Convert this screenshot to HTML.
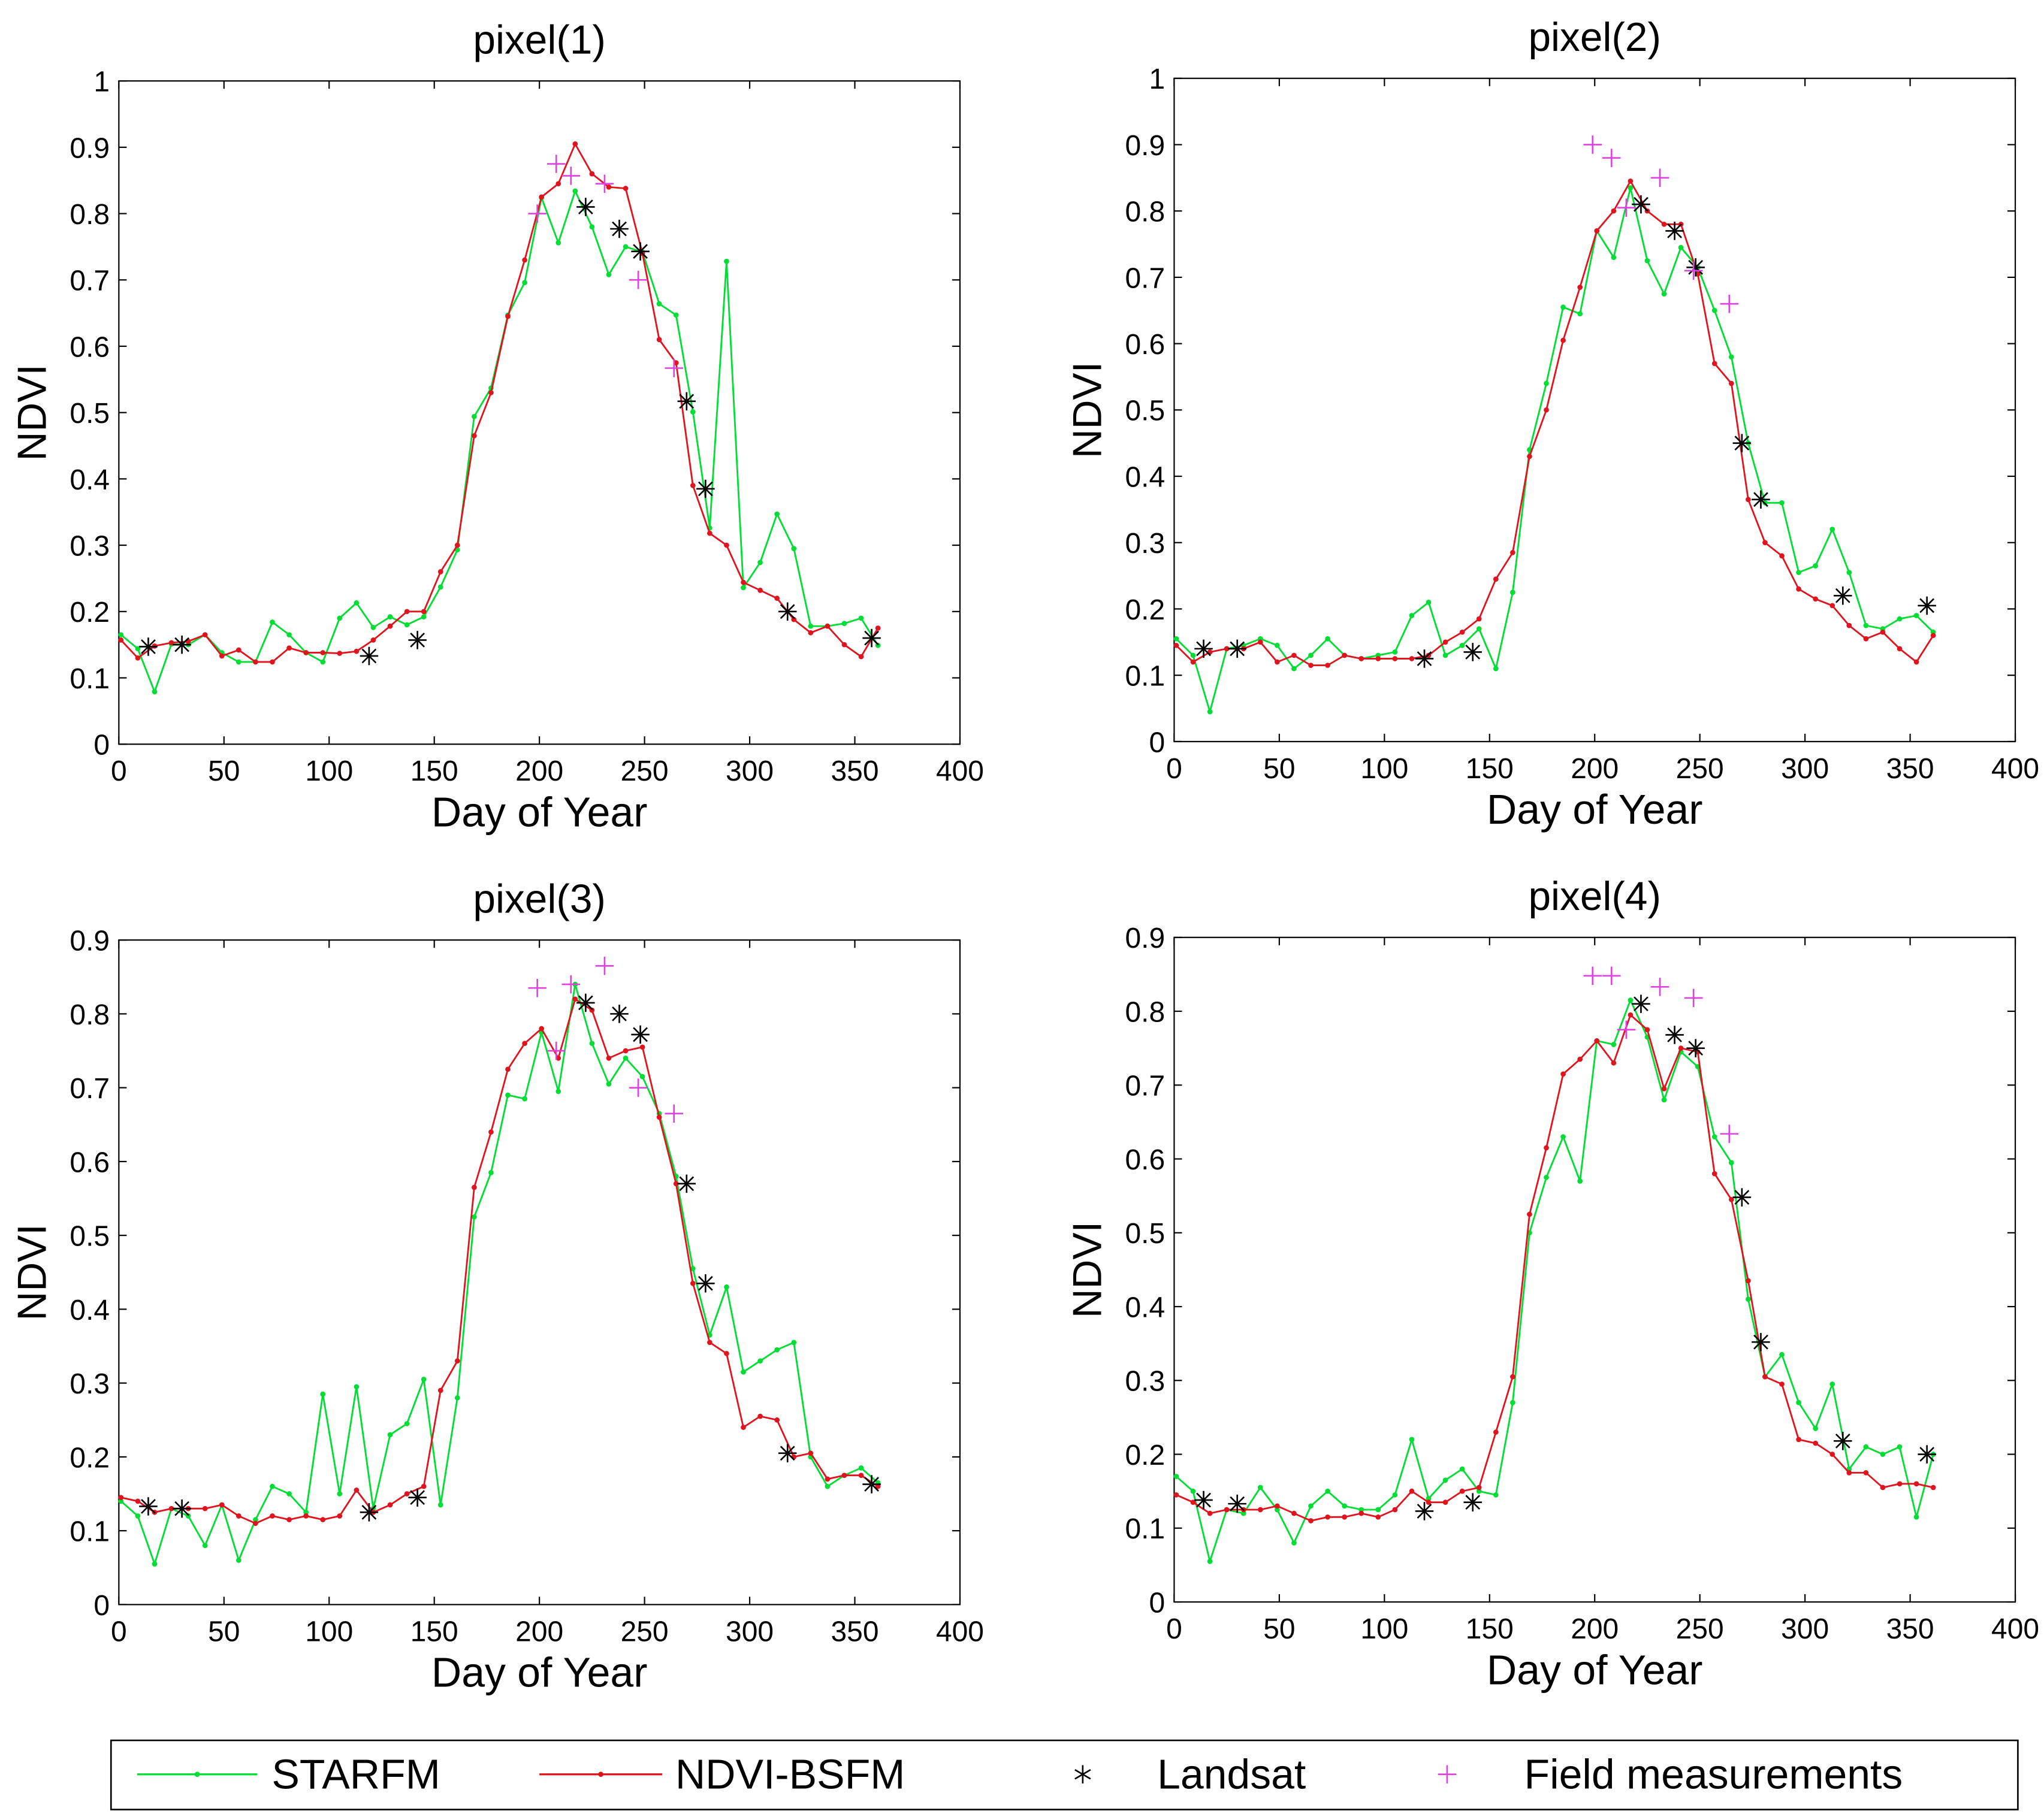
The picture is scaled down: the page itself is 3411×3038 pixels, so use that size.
<!DOCTYPE html>
<html><head><meta charset="utf-8"><style>
html,body{margin:0;padding:0;background:#fff;}
svg{display:block;}
text{font-family:"Liberation Sans",Arial,sans-serif;fill:#000;}
</style></head><body>
<svg id="chart" width="3411" height="3038" viewBox="0 0 1565 1394" preserveAspectRatio="none" xmlns="http://www.w3.org/2000/svg">
<g id="panels"></g>
<g>
<rect x="85" y="1333" width="1460" height="53" fill="#fff" stroke="#000" stroke-width="1.2"/>
<g>
<line x1="105" y1="1359" x2="197" y2="1359" stroke="#00dd33" stroke-width="1.5"/><circle cx="151" cy="1359" r="2" fill="#00dd33"/>
<text x="208" y="1370" font-size="32">STARFM</text></g>
<g>
<line x1="413" y1="1359" x2="507" y2="1359" stroke="#e0141e" stroke-width="1.5"/><circle cx="460" cy="1359" r="2" fill="#e0141e"/>
<text x="517" y="1370" font-size="32">NDVI-BSFM</text></g>
<g>
<g stroke="#000" stroke-width="1.2"><line x1="829" y1="1352" x2="829" y2="1366"/><line x1="823" y1="1355.5" x2="835" y2="1362.5"/><line x1="823" y1="1362.5" x2="835" y2="1355.5"/></g>
<text x="886" y="1370" font-size="32">Landsat</text></g>
<g>
<g stroke="#e040e0" stroke-width="1.2"><line x1="1101" y1="1359" x2="1115" y2="1359"/><line x1="1108" y1="1352" x2="1108" y2="1366"/></g>
<text x="1167" y="1370" font-size="32">Field measurements</text></g>
</g>
</svg>
<script>
const days = [1,9,17,25,33,41,49,57,65,73,81,89,97,105,113,121,129,137,145,153,161,169,177,185,193,201,209,217,225,233,241,249,257,265,273,281,289,297,305,313,321,329,337,345,353,361];
const xTicks = [0,50,100,150,200,250,300,350,400];
const yTicks1 = [0,0.1,0.2,0.3,0.4,0.5,0.6,0.7,0.8,0.9,1];
const yTicks2 = [0,0.1,0.2,0.3,0.4,0.5,0.6,0.7,0.8,0.9];
const landsatDays = [14,30,119,142,222,238,248,270,279,318,358];
const fieldDays = [199,208,215,231,247,264];

const starfm1 = [0.165,0.144,0.079,0.151,0.15,0.165,0.138,0.124,0.124,0.184,0.165,0.138,0.124,0.19,0.213,0.176,0.192,0.18,0.192,0.237,0.293,0.494,0.537,0.647,0.696,0.824,0.756,0.834,0.78,0.708,0.75,0.742,0.664,0.647,0.501,0.326,0.728,0.236,0.274,0.347,0.295,0.178,0.178,0.182,0.19,0.149];
const bsfm1 = [0.157,0.13,0.148,0.153,0.155,0.165,0.133,0.142,0.124,0.124,0.145,0.138,0.138,0.137,0.14,0.157,0.178,0.2,0.2,0.26,0.3,0.465,0.53,0.645,0.73,0.825,0.845,0.905,0.86,0.84,0.838,0.74,0.61,0.575,0.39,0.318,0.3,0.244,0.232,0.22,0.188,0.168,0.178,0.15,0.132,0.175];
const landsat1 = [0.147,0.15,0.133,0.157,0.81,0.777,0.743,0.517,0.385,0.2,0.16];
const field1 = [0.8,0.875,0.857,0.845,0.7,0.567];

const starfm2 = [0.155,0.13,0.045,0.14,0.145,0.155,0.145,0.11,0.13,0.155,0.13,0.125,0.13,0.135,0.19,0.21,0.13,0.145,0.17,0.11,0.225,0.44,0.54,0.655,0.645,0.77,0.73,0.835,0.725,0.675,0.745,0.715,0.65,0.58,0.45,0.36,0.36,0.255,0.265,0.32,0.255,0.175,0.17,0.185,0.19,0.165];
const bsfm2 = [0.145,0.12,0.135,0.14,0.14,0.15,0.12,0.13,0.115,0.115,0.13,0.125,0.125,0.125,0.125,0.13,0.15,0.165,0.185,0.245,0.285,0.43,0.5,0.605,0.685,0.77,0.8,0.845,0.8,0.78,0.78,0.705,0.57,0.54,0.365,0.3,0.28,0.23,0.215,0.205,0.175,0.155,0.165,0.14,0.12,0.16];
const landsat2 = [0.14,0.14,0.125,0.135,0.81,0.77,0.715,0.45,0.365,0.22,0.205];
const field2 = [0.9,0.88,0.805,0.85,0.71,0.66];

const starfm3 = [0.14,0.12,0.055,0.13,0.12,0.08,0.135,0.06,0.115,0.16,0.15,0.125,0.285,0.15,0.295,0.13,0.23,0.245,0.305,0.135,0.28,0.525,0.585,0.69,0.685,0.775,0.695,0.84,0.76,0.705,0.74,0.715,0.665,0.58,0.455,0.365,0.43,0.315,0.33,0.345,0.355,0.2,0.16,0.175,0.185,0.165];
const bsfm3 = [0.145,0.14,0.125,0.13,0.13,0.13,0.135,0.12,0.11,0.12,0.115,0.12,0.115,0.12,0.155,0.125,0.135,0.15,0.16,0.29,0.33,0.565,0.64,0.725,0.76,0.78,0.74,0.82,0.805,0.74,0.75,0.755,0.66,0.57,0.435,0.355,0.34,0.24,0.255,0.25,0.2,0.205,0.17,0.175,0.175,0.16];
const landsat3 = [0.133,0.13,0.125,0.145,0.815,0.8,0.772,0.57,0.435,0.205,0.163];
const field3 = [0.835,0.75,0.84,0.865,0.7,0.665];

const starfm4 = [0.17,0.15,0.055,0.125,0.12,0.155,0.125,0.08,0.13,0.15,0.13,0.125,0.125,0.145,0.22,0.14,0.165,0.18,0.15,0.145,0.27,0.5,0.575,0.63,0.57,0.76,0.755,0.815,0.765,0.68,0.745,0.725,0.63,0.595,0.41,0.305,0.335,0.27,0.235,0.295,0.18,0.21,0.2,0.21,0.115,0.2];
const bsfm4 = [0.145,0.135,0.12,0.125,0.125,0.125,0.13,0.12,0.11,0.115,0.115,0.12,0.115,0.125,0.15,0.135,0.135,0.15,0.155,0.23,0.305,0.525,0.615,0.715,0.735,0.76,0.73,0.795,0.775,0.695,0.75,0.745,0.58,0.545,0.435,0.305,0.295,0.22,0.215,0.2,0.175,0.175,0.155,0.16,0.16,0.155];
const landsat4 = [0.138,0.133,0.123,0.135,0.81,0.768,0.75,0.548,0.352,0.218,0.2];
const field4 = [0.848,0.848,0.775,0.833,0.818,0.634];

const NS='http://www.w3.org/2000/svg';
function mk(tag, attrs, parent){const e=document.createElementNS(NS,tag);for(const k in attrs)e.setAttribute(k,attrs[k]);parent.appendChild(e);return e;}
function fmt(v){return v===0?'0':(v===1?'1':v.toFixed(1));}

const panels=[
 {title:'pixel(1)',L:91,R:735,T:62,B:570,ymax:1,yt:yTicks1,g:starfm1,r:bsfm1,ls:landsat1,f:field1},
 {title:'pixel(2)',L:899,R:1543,T:60,B:568,ymax:1,yt:yTicks1,g:starfm2,r:bsfm2,ls:landsat2,f:field2},
 {title:'pixel(3)',L:91,R:735,T:720,B:1229,ymax:0.9,yt:yTicks2,g:starfm3,r:bsfm3,ls:landsat3,f:field3},
 {title:'pixel(4)',L:899,R:1543,T:718,B:1227,ymax:0.9,yt:yTicks2,g:starfm4,r:bsfm4,ls:landsat4,f:field4}
];
const root=document.getElementById('panels');
panels.forEach((p,i)=>{
 const g=mk('g',{},root);
 
 
 const xs=d=>p.L+(d/400)*(p.R-p.L);
 const ys=v=>p.B-(v/p.ymax)*(p.B-p.T);
 const cx=(p.L+p.R)/2;
 const t=mk('text',{x:cx,y:p.T-21,'font-size':31,'text-anchor':'middle'},g);t.textContent=p.title;
 
 
 const box=mk('rect',{x:p.L,y:p.T,width:p.R-p.L,height:p.B-p.T,fill:'none',stroke:'#000','stroke-width':1},g);
 
 
 xTicks.forEach(v=>{const x=xs(v);
  mk('line',{x1:x,y1:p.B,x2:x,y2:p.B-6,stroke:'#000','stroke-width':1},g);
  mk('line',{x1:x,y1:p.T,x2:x,y2:p.T+6,stroke:'#000','stroke-width':1},g);
  const l=mk('text',{x:x,y:p.B+28,'font-size':22,'text-anchor':'middle'},g);l.textContent=v;
  
  
 });
 p.yt.forEach(v=>{const y=ys(v);
  mk('line',{x1:p.L,y1:y,x2:p.L+6,y2:y,stroke:'#000','stroke-width':1},g);
  mk('line',{x1:p.R,y1:y,x2:p.R-6,y2:y,stroke:'#000','stroke-width':1},g);
  const l=mk('text',{x:p.L-7,y:y+8,'font-size':22,'text-anchor':'end'},g);l.textContent=fmt(v);
  
  
 });
 const xt=mk('text',{x:cx,y:p.B+63,'font-size':32,'text-anchor':'middle'},g);xt.textContent='Day of Year';
 
 
 const ym=(p.T+p.B)/2, yx=p.L-56;
 const yt=mk('text',{x:yx,y:ym,'font-size':31,'text-anchor':'middle',transform:'rotate(-90 '+yx+' '+ym+')'},g);yt.textContent='NDVI';
 
 
 [[p.g,'#00dd33','starfm-series'],[p.r,'#e0141e','ndvi-bsfm-series']].forEach(([arr,col,nm])=>{
  const pts=arr.map((v,k)=>xs(days[k]).toFixed(2)+','+ys(v).toFixed(2)).join(' ');
  const pl=mk('polyline',{points:pts,fill:'none',stroke:col,'stroke-width':1.3},g);
  
  
  arr.forEach((v,k)=>{const c=mk('circle',{cx:xs(days[k]),cy:ys(v),r:2,fill:col},g);
   
   });
 });
 p.ls.forEach((v,k)=>{const x=xs(landsatDays[k]),y=ys(v),s=7;
  const m=mk('g',{stroke:'#000','stroke-width':1.2},g);
  
  
  mk('line',{x1:x,y1:y-s,x2:x,y2:y+s},m);
  mk('line',{x1:x-s,y1:y,x2:x+s,y2:y},m);
  mk('line',{x1:x-s*0.75,y1:y-s*0.75,x2:x+s*0.75,y2:y+s*0.75},m);
  mk('line',{x1:x-s*0.75,y1:y+s*0.75,x2:x+s*0.75,y2:y-s*0.75},m);
 });
 p.f.forEach((v,k)=>{const x=xs(fieldDays[k]),y=ys(v),s=7;
  const m=mk('g',{stroke:'#e040e0','stroke-width':1.2},g);
  
  
  mk('line',{x1:x-s,y1:y,x2:x+s,y2:y},m);
  mk('line',{x1:x,y1:y-s,x2:x,y2:y+s},m);
 });
});
</script>
</body></html>
